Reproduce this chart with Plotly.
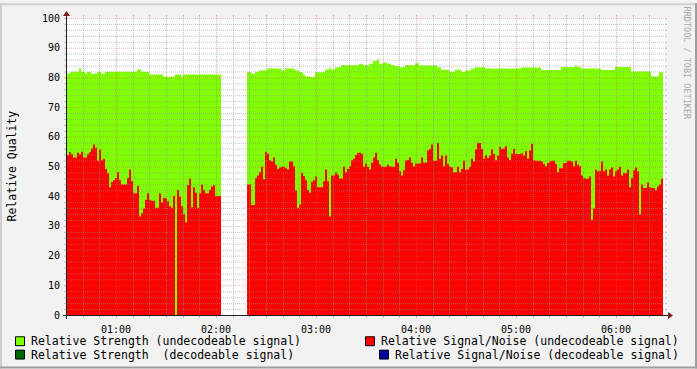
import plotly.graph_objects as go
import pandas as pd

# ---------------- data ----------------
start_time = "2024-01-01 00:30:36"   # first sample
step_seconds = 72                      # sample spacing
gap_samples = 13                       # missing samples between the two runs

strength_part1 = [
    81.2, 81.5, 81.9, 81.9, 81.9, 81.9, 83, 81.9, 81.9, 81.2,
    81.9, 81.9, 81.2, 81.2, 81.2, 81.9, 81.9, 81.2, 81.2, 81.9,
    81.9, 81.9, 81.9, 81.9, 81.9, 81.9, 81.9, 81.9, 81.9, 81.9,
    81.9, 81.9, 81.9, 81.9, 81.9, 82.7, 82.7, 81.9, 81.9, 81.9,
    81.9, 81, 81, 81, 81, 81, 81, 81, 80.2, 80.2,
    80.2, 80.2, 80.2, 80.2, 81, 81, 81, 80.2, 81, 81,
    81, 81, 81, 81, 81, 81, 81, 81, 81, 81,
    81, 81, 81, 81, 81, 81, 81]
snr_part1 = [
    53.9, 54.8, 54.1, 53, 53, 54.6, 54.1, 55, 53, 53,
    54.1, 54.8, 56.1, 57.4, 56.3, 51.9, 55.7, 52.1, 52.6, 49.2,
    47.7, 43, 44.8, 45.4, 46.1, 48.1, 45.4, 43.9, 43.9, 43.9,
    46.1, 49, 45, 41, 41, 43.4, 33.2, 34.3, 35.9, 38.8,
    41, 38.8, 38.5, 38.5, 36.1, 36.1, 41, 37.9, 39.4, 39.4,
    38.3, 36.6, 36.1, 40.1, 0, 42.1, 39.9, 36.6, 33.9, 31.2,
    43.7, 45.9, 36.3, 43, 41.2, 36.1, 41, 43.9, 42.1, 41,
    41, 42.1, 43.3, 43.7, 40.1, 40.1, 40.1]

strength_part2 = [
    81.9, 81.9, 81.2, 81.2, 81.9, 81.9, 82.3, 82.3, 82.3, 82.3,
    83, 83, 83, 83, 83, 83, 83, 82.3, 82.3, 83,
    83, 83, 83, 83, 82.3, 82.3, 81.7, 81.7, 81, 80.3,
    80.3, 80.3, 80.1, 80.1, 81.7, 81.7, 81.7, 81.7, 81.7, 82.7,
    82.7, 83.1, 82.7, 82.7, 83.4, 83.4, 83.4, 84.1, 84.1, 84.1,
    84.1, 84.1, 84.1, 84.1, 84.1, 84.1, 84.6, 84.6, 84.1, 84.1,
    84.1, 84.6, 84.6, 85.5, 85.5, 86, 84.6, 84.6, 85, 85,
    84.6, 84.6, 84.1, 84.1, 83.8, 83.8, 83.4, 83.4, 83.4, 84.1,
    84.1, 84.1, 84.1, 84.1, 84.8, 84.8, 84, 84, 84, 84,
    84, 84, 84, 84, 84, 83.4, 83.4, 82.6, 82.6, 82.6,
    82.6, 81.9, 81.9, 81.9, 82.6, 82.6, 82.6, 81.9, 81.9, 82.3,
    82.3, 82.3, 83, 83, 83.4, 83.4, 83.4, 83.4, 83.4, 83,
    83, 83, 83, 83, 83, 83, 83, 83, 83, 83,
    83, 83, 83, 83, 83, 83, 83, 83.3, 83.3, 83.3,
    83.3, 83.3, 83.3, 83.3, 83.3, 83.3, 83.3, 82.5, 82.5, 82.5,
    82.5, 82.5, 82.5, 82.5, 82.5, 82.5, 82.5, 83.5, 83.5, 83.5,
    83.5, 83.5, 83.5, 83.5, 84, 83.5, 83.5, 83, 83, 83,
    83, 83, 83, 83, 83, 83, 83, 82.5, 82.5, 82.5,
    82.5, 82.5, 82.5, 82.5, 83.5, 83.5, 83.5, 83.5, 83.5, 83.5,
    83.5, 83.5, 82, 82, 82, 82, 82, 82, 82, 82,
    82, 82, 80.3, 80.3, 80.3, 80.3, 81.7, 81.7]
snr_part2 = [
    43.9, 43.9, 37, 37, 46.1, 47, 48.1, 49.9, 45.7, 55,
    54.3, 52.1, 51.7, 53, 50.6, 49.2, 49.7, 49.9, 49.9, 49.4,
    49, 51.7, 51.7, 50.1, 41.9, 36.1, 37.2, 47.9, 46.8, 45.4,
    42.1, 41.2, 44.8, 45.4, 46.6, 43, 43, 43, 45, 49,
    45, 33.2, 47, 47, 48, 47.2, 46, 46, 49.9, 48.1,
    49.2, 50.1, 52.1, 52.6, 53.9, 54.6, 54.6, 54.2, 49.9, 51,
    49.9, 49, 51.3, 53, 54.6, 52.1, 50.7, 49.9, 49.9, 49.9,
    50.6, 50.1, 49.9, 49.9, 52.6, 51.3, 48.4, 47, 48.7, 52,
    52.2,
    53, 51.3, 50, 51, 51, 51, 53, 51.3, 51.3, 55.4,
    55.9, 57.4, 51.9, 51.9, 57.9, 52.6, 53.7, 50.1, 53.7, 50.8,
    49.9, 49.7, 48.1, 48.1, 49.9, 48.1, 49.2, 51.9, 49, 49,
    49.9, 52.6, 51.7, 55.7, 57.9, 57.9, 55.9, 52.6, 53.7, 52.9,
    53.7, 55.7, 54.2, 52.1, 53.7, 56.6, 55.9, 56.1, 56.8, 53,
    52.2, 54.3, 55.9, 54.3, 54.2, 54.2, 54.5, 53.7, 55.2, 52.6,
    55.4, 57.7, 52.1, 51.9, 51.9, 51.9, 51.7, 50.8, 50.1, 51.2,
    51.7, 51.9, 51.9, 50.8, 48.1, 49.4, 49.4, 51.2, 51.2, 51.9,
    51.9, 51.7, 50.1, 51.9, 50.6, 50.1, 47, 46.1, 45.9, 45.9,
    46.6, 32.1, 35.9, 49, 48.4, 48.4, 51.7, 48.4, 49, 47,
    49, 49.7, 46.6, 48.4, 49, 49.9, 47, 47.7, 47.7, 49,
    43, 46.1, 48.7, 49.7, 48.4, 33.9, 43.9, 42.8, 42.8, 44.6,
    43, 42.8, 42.8, 42.1, 43.3, 43.9, 45.9]

x_range = ["2024-01-01 00:30:36", "2024-01-01 06:29:24"]
hour_ticks = ["2024-01-01 01:00", "2024-01-01 02:00", "2024-01-01 03:00",
              "2024-01-01 04:00", "2024-01-01 05:00", "2024-01-01 06:00"]
hour_labels = ["01:00", "02:00", "03:00", "04:00", "05:00", "06:00"]
y_ticks = [0, 10, 20, 30, 40, 50, 60, 70, 80, 90, 100]

legend_items = [
    ("Relative Strength (undecodeable signal)", "#80ff00", 15, 30, 341.5),
    ("Relative Strength  (decodeable signal)", "#006600", 15, 30, 355),
    ("Relative Signal/Noise (undecodeable signal)", "#ff0000", 365, 380, 341.5),
    ("Relative Signal/Noise (decodeable signal)", "#000099", 379, 394, 355),
]

# ---------------- helpers ----------------
t0 = pd.Timestamp(start_time)
step = pd.Timedelta(seconds=step_seconds)


def step_segments(part1, part2):
    """Return one (x, y) step path per contiguous run of samples."""
    segs = []
    offset = 0
    for part in (part1, part2):
        xs, ys = [], []
        for i, v in enumerate(part):
            xs.append(t0 + (offset + i) * step)
            ys.append(v)
        xs.append(t0 + (offset + len(part)) * step)
        ys.append(part[-1])
        segs.append(([x.strftime("%Y-%m-%d %H:%M:%S") for x in xs], ys))
        offset += len(part) + gap_samples
    return segs


W, H = 697, 369
L, R, T, B = 67, 665, 15, 315
PW, PH = R - L, B - T


def fx(px):
    return (px - L) / PW


def fy(py):
    return (B - py) / PH


FONT = "DejaVu Sans Mono"
GRID = "rgba(143,143,143,0.55)"
MGRID = "rgba(222,79,79,0.45)"
AXIS = "#1f1f1f"
ARROW = "#801f1f"

fig = go.Figure()

for name, color, p1, p2 in [
    ("Relative Strength (undecodeable signal)", "#80ff00", strength_part1, strength_part2),
    ("Relative Signal/Noise (undecodeable signal)", "#ff0000", snr_part1, snr_part2),
]:
    for xs, ys in step_segments(p1, p2):
        fig.add_trace(go.Scatter(x=xs, y=ys, mode="lines",
                                 line=dict(width=0, shape="hv", color=color),
                                 fill="tozeroy", fillcolor=color, showlegend=False, name=name))

shapes = []
# horizontal grid
for v in range(2, 101, 2):
    col = MGRID if v % 10 == 0 else GRID
    py = B - 3 * v + 0.5
    shapes.append(dict(type="line", xref="paper", yref="paper", x0=fx(L), x1=fx(R), y0=fy(py), y1=fy(py),
                       line=dict(color=col, width=1, dash="1px,1px"), layer="above"))
    shapes.append(dict(type="line", xref="paper", yref="paper", x0=fx(L - 3), x1=fx(L - 1), y0=fy(py), y1=fy(py),
                       line=dict(color=col, width=1), layer="above"))
    shapes.append(dict(type="line", xref="paper", yref="paper", x0=fx(R), x1=fx(R + 2), y0=fy(py), y1=fy(py),
                       line=dict(color=col, width=1), layer="above"))
# vertical grid every 10 minutes
t_start = pd.Timestamp(x_range[0])
gt = pd.Timestamp("2024-01-01 00:40")
while gt < pd.Timestamp(x_range[1]):
    px = round(L + (gt - t_start).total_seconds() / 36.0) + 0.5
    col = MGRID if gt.minute == 0 else GRID
    shapes.append(dict(type="line", xref="paper", yref="paper", x0=fx(px), x1=fx(px), y0=fy(T), y1=fy(B),
                       line=dict(color=col, width=1, dash="1px,1px"), layer="above"))
    shapes.append(dict(type="line", xref="paper", yref="paper", x0=fx(px), x1=fx(px), y0=fy(T - 3), y1=fy(T - 1),
                       line=dict(color=col, width=1), layer="above"))
    shapes.append(dict(type="line", xref="paper", yref="paper", x0=fx(px), x1=fx(px), y0=fy(B + 1), y1=fy(B + 3),
                       line=dict(color=col, width=1), layer="above"))
    gt += pd.Timedelta(minutes=10)

# axes
shapes.append(dict(type="line", xref="paper", yref="paper", x0=fx(L - 4), x1=fx(R + 4), y0=fy(B + 0.5), y1=fy(B + 0.5),
                   line=dict(color=AXIS, width=1), layer="above"))
shapes.append(dict(type="line", xref="paper", yref="paper", x0=fx(L - 0.5), x1=fx(L - 0.5), y0=fy(B + 4), y1=fy(T - 4),
                   line=dict(color=AXIS, width=1), layer="above"))


def tri(pts):
    return "M " + " L ".join(f"{fx(a):.5f},{fy(b):.5f}" for a, b in pts) + " Z"


shapes.append(dict(type="path", xref="paper", yref="paper",
                   path=tri([(R + 3, B - 3), (R + 3, B + 4), (R + 8, B + 0.5)]),
                   fillcolor=ARROW, line=dict(width=0), layer="above"))
shapes.append(dict(type="path", xref="paper", yref="paper",
                   path=tri([(L - 4, T - 2), (L + 3, T - 2), (L - 0.5, T - 7)]),
                   fillcolor=ARROW, line=dict(width=0), layer="above"))

# frame shading
shapes.append(dict(type="rect", xref="paper", yref="paper", x0=fx(0), x1=fx(W), y0=fy(0), y1=fy(2),
                   fillcolor="#cfcfcf", line=dict(width=0)))
shapes.append(dict(type="rect", xref="paper", yref="paper", x0=fx(0), x1=fx(2), y0=fy(0), y1=fy(H),
                   fillcolor="#cfcfcf", line=dict(width=0)))
shapes.append(dict(type="rect", xref="paper", yref="paper", x0=fx(0), x1=fx(W), y0=fy(H - 2), y1=fy(H),
                   fillcolor="#9e9e9e", line=dict(width=0)))
shapes.append(dict(type="rect", xref="paper", yref="paper", x0=fx(W - 2), x1=fx(W), y0=fy(0), y1=fy(H),
                   fillcolor="#9e9e9e", line=dict(width=0)))

annotations = []
for text, color, bx, tx, cy in legend_items:
    shapes.append(dict(type="rect", xref="paper", yref="paper",
                       x0=fx(bx + 0.5), x1=fx(bx + 9.5), y0=fy(cy - 4.5), y1=fy(cy + 4.5),
                       fillcolor=color, line=dict(color="#000000", width=1)))
    annotations.append(dict(text=text, xref="paper", yref="paper", x=fx(tx - 1), y=fy(cy),
                            xanchor="left", yanchor="middle", showarrow=False,
                            font=dict(family=FONT, size=11.5, color="#000000")))

annotations.append(dict(text="Relative Quality", xref="paper", yref="paper", x=fx(11), y=fy(165),
                        xanchor="center", yanchor="middle", textangle=-90, showarrow=False,
                        font=dict(family=FONT, size=11.5, color="#000000")))
annotations.append(dict(text="RRDTOOL / TOBI OETIKER", xref="paper", yref="paper", x=fx(687), y=fy(60),
                        xanchor="center", yanchor="middle", textangle=90, showarrow=False,
                        font=dict(family=FONT, size=8.5, color="#a8a8a8")))

fig.update_layout(
    width=W, height=H,
    margin=dict(l=L, r=W - R, t=T, b=H - B, pad=0),
    paper_bgcolor="#f2f2f2", plot_bgcolor="#ffffff",
    shapes=shapes, annotations=annotations, showlegend=False,
    xaxis=dict(type="date", range=x_range, tickvals=hour_ticks, ticktext=hour_labels,
               showgrid=False, zeroline=False, showline=False, ticks="outside", ticklen=5,
               tickcolor="rgba(0,0,0,0)", tickfont=dict(family=FONT, size=10, color="#000000"),
               fixedrange=True),
    yaxis=dict(range=[0, 100], tickvals=y_ticks, ticktext=[str(v) for v in y_ticks],
               showgrid=False, zeroline=False, showline=False, ticks="outside", ticklen=4,
               tickcolor="rgba(0,0,0,0)", tickfont=dict(family=FONT, size=10, color="#000000"),
               fixedrange=True),
)

fig.write_html("out.html")
